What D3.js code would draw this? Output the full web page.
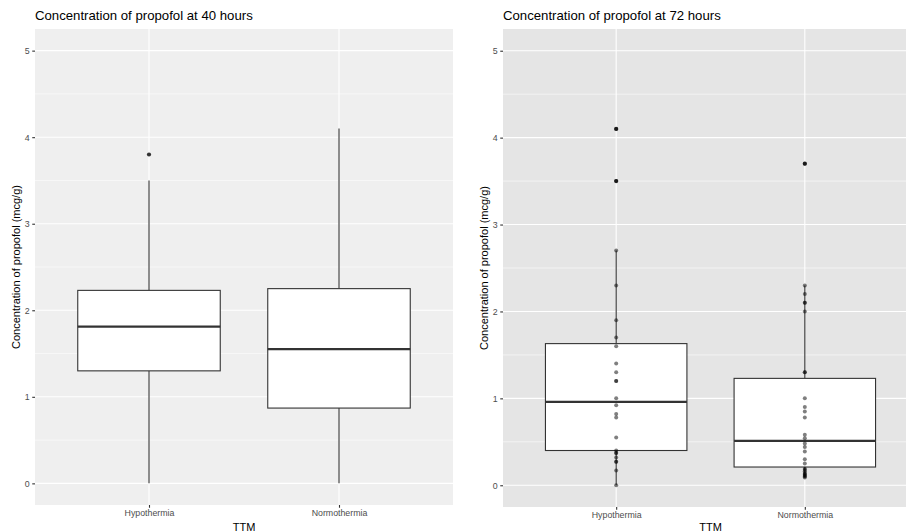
<!DOCTYPE html>
<html>
<head>
<meta charset="utf-8">
<script src="https://cdn.jsdelivr.net/npm/d3@7"></script>
<style>
body { margin: 0; background: #fff; }
svg text { font-family: "Liberation Sans", Arial, sans-serif; }
</style>
</head>
<body>
<svg id="chart" width="906" height="532"></svg>
<script>
// data
var categories = ["Hypothermia", "Normothermia"];
var yTicks = [0, 1, 2, 3, 4, 5];
var yMinor = [0.5, 1.5, 2.5, 3.5, 4.5];

// 40 hours: boxplot only
var lower40 = [0, 0];
var q1_40 = [1.30, 0.87];
var median40 = [1.81, 1.55];
var q3_40 = [2.23, 2.25];
var upper40 = [3.5, 4.1];
var outliers40 = [[3.8], []];

// 72 hours: boxplot + raw points
var lower72 = [0, 0.09];
var q1_72 = [0.40, 0.21];
var median72 = [0.96, 0.51];
var q3_72 = [1.63, 1.23];
var upper72 = [2.7, 2.3];
var outliers72 = [[4.1, 3.5], [3.7]];
var pointsHypo72 = [4.1, 3.5, 2.7, 2.3, 1.9, 1.7, 1.6, 1.4, 1.3, 1.2, 1.2, 1.0, 0.92, 0.82, 0.78, 0.55,
    0.40, 0.37, 0.37, 0.32, 0.27, 0.27, 0.17, 0.0];
var pointsNormo72 = [3.7, 2.3, 2.2, 2.1, 2.1, 2.0, 1.3, 1.3, 1.0, 0.9, 0.85, 0.78, 0.58, 0.54, 0.48,
    0.44, 0.39, 0.3, 0.25, 0.19, 0.18, 0.16, 0.14, 0.13, 0.12, 0.11, 0.1, 0.09];

var svg = d3.select("#chart");

function buildStats(lo, a, m, b, hi, outs) {
    return categories.map(function(c, i) {
        return {cat: c, lower: lo[i], q1: a[i], median: m[i], q3: b[i], upper: hi[i], outliers: outs[i]};
    });
}

var panels = [
    {title: "Concentration of propofol at 40 hours", left: 35, right: 453, top: 29, bottom: 505,
     bg: "#efefef", stats: buildStats(lower40, q1_40, median40, q3_40, upper40, outliers40), points: null},
    {title: "Concentration of propofol at 72 hours", left: 503, right: 918, top: 29, bottom: 507,
     bg: "#e5e5e5", stats: buildStats(lower72, q1_72, median72, q3_72, upper72, outliers72),
     points: [pointsHypo72, pointsNormo72]}
];

function drawPanel(p) {
    var g = svg.append("g");
    var x = d3.scalePoint().domain(categories).range([p.left, p.right]).padding(0.6);
    var y = d3.scaleLinear().domain([-0.25, 5.25]).range([p.bottom, p.top]);
    var boxW = x.step() * 0.75;

    g.append("rect")
        .attr("x", p.left).attr("y", p.top)
        .attr("width", p.right - p.left).attr("height", p.bottom - p.top)
        .attr("fill", p.bg);

    // grid
    g.selectAll(".minor").data(yMinor).enter().append("line")
        .attr("x1", p.left).attr("x2", p.right)
        .attr("y1", function(d) { return y(d); }).attr("y2", function(d) { return y(d); })
        .attr("stroke", "#fff").attr("stroke-width", 0.55);
    g.selectAll(".major").data(yTicks).enter().append("line")
        .attr("x1", p.left).attr("x2", p.right)
        .attr("y1", function(d) { return y(d); }).attr("y2", function(d) { return y(d); })
        .attr("stroke", "#fff").attr("stroke-width", 1.1);
    g.selectAll(".vgrid").data(categories).enter().append("line")
        .attr("x1", function(d) { return x(d); }).attr("x2", function(d) { return x(d); })
        .attr("y1", p.top).attr("y2", p.bottom)
        .attr("stroke", "#fff").attr("stroke-width", 1.1);

    // boxes
    var b = g.selectAll(".box").data(p.stats).enter().append("g");
    b.append("line")
        .attr("x1", function(d) { return x(d.cat); }).attr("x2", function(d) { return x(d.cat); })
        .attr("y1", function(d) { return y(d.upper); }).attr("y2", function(d) { return y(d.q3); })
        .attr("stroke", "#333").attr("stroke-width", 1.1);
    b.append("line")
        .attr("x1", function(d) { return x(d.cat); }).attr("x2", function(d) { return x(d.cat); })
        .attr("y1", function(d) { return y(d.q1); }).attr("y2", function(d) { return y(d.lower); })
        .attr("stroke", "#333").attr("stroke-width", 1.1);
    b.append("rect")
        .attr("x", function(d) { return x(d.cat) - boxW / 2; })
        .attr("y", function(d) { return y(d.q3); })
        .attr("width", boxW)
        .attr("height", function(d) { return y(d.q1) - y(d.q3); })
        .attr("fill", "#fff").attr("stroke", "#333").attr("stroke-width", 1.1);
    b.append("line")
        .attr("x1", function(d) { return x(d.cat) - boxW / 2; })
        .attr("x2", function(d) { return x(d.cat) + boxW / 2; })
        .attr("y1", function(d) { return y(d.median); }).attr("y2", function(d) { return y(d.median); })
        .attr("stroke", "#333").attr("stroke-width", 2.2);
    b.each(function(d) {
        d3.select(this).selectAll("circle").data(d.outliers).enter().append("circle")
            .attr("cx", x(d.cat)).attr("cy", function(v) { return y(v); })
            .attr("r", 2.1).attr("fill", "#333");
    });

    // raw points
    if (p.points) {
        p.points.forEach(function(vals, i) {
            g.selectAll(".pt" + i).data(vals).enter().append("circle")
                .attr("cx", x(categories[i])).attr("cy", function(v) { return y(v); })
                .attr("r", 2).attr("fill", "#000").attr("fill-opacity", 0.5);
        });
    }

    // axes
    var ya = g.append("g").attr("transform", "translate(" + p.left + ",0)")
        .call(d3.axisLeft(y).tickValues(yTicks).tickFormat(d3.format("d")).tickSize(2.75).tickPadding(2.5));
    ya.select(".domain").remove();
    ya.selectAll("line").attr("stroke", "#333").attr("stroke-width", 1.1);
    ya.selectAll("text").attr("fill", "#4d4d4d").style("font-size", "8.8px");

    var xa = g.append("g").attr("transform", "translate(0," + p.bottom + ")")
        .call(d3.axisBottom(x).tickSize(2.75).tickPadding(2.5));
    xa.select(".domain").remove();
    xa.selectAll("line").attr("stroke", "#333").attr("stroke-width", 1.1);
    xa.selectAll("text").attr("fill", "#4d4d4d").style("font-size", "8.8px");

    // titles
    g.append("text")
        .attr("x", p.left).attr("y", 20)
        .style("font-size", "13.2px").attr("fill", "#000")
        .text(p.title);
    g.append("text")
        .attr("x", (x.range()[0] + x.range()[1]) / 2)
        .attr("y", 531)
        .attr("text-anchor", "middle")
        .style("font-size", "11px").attr("fill", "#000")
        .text("TTM");
    g.append("text")
        .attr("transform", "translate(" + (p.left - 15) + "," + ((p.top + p.bottom) / 2) + ") rotate(-90)")
        .attr("text-anchor", "middle")
        .style("font-size", "11px").attr("fill", "#000")
        .text("Concentration of propofol (mcg/g)");
}

panels.forEach(drawPanel);
</script>
</body>
</html>
